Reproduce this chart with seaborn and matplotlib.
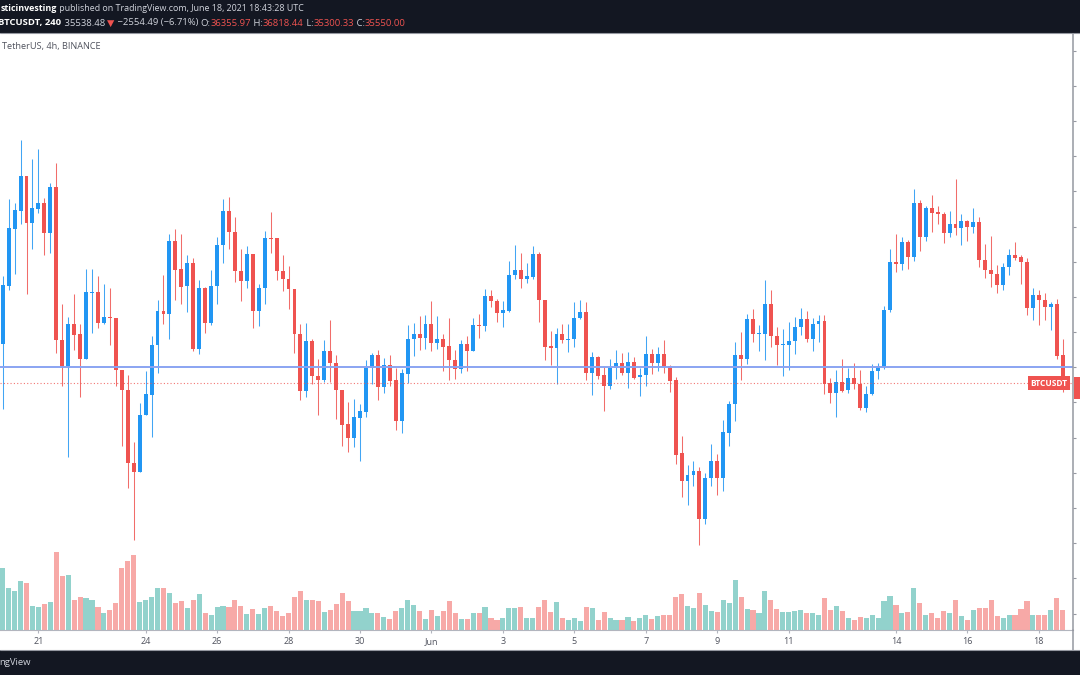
import matplotlib

matplotlib.use("Agg")
import matplotlib.pyplot as plt
import matplotlib.transforms as mtransforms
from matplotlib.lines import Line2D
from matplotlib.patches import Rectangle
import numpy as np
import pandas as pd
import seaborn as sns

# BTCUSDT 4h candles on Binance, 2021-05-20 00:00 UTC to 2021-06-18 16:00 UTC
start_time = "2021-05-20 00:00"

opens = [
    36651, 38313, 39938, 40451, 41439, 40090, 40508, 40660, 39824, 41116,
    36784, 36033, 37240, 36936, 36233, 38114, 38152, 37259, 37430, 37411,
    35910, 35359, 33288, 33012, 34646, 35226, 36622, 37591, 37515, 39596,
    38788, 38304, 38978, 36508, 38266, 37259, 38304, 39482, 40441, 39843,
    38750, 38465, 39235, 37601, 38257, 39682, 39672, 38750, 38522, 38218,
    36955, 35340, 36736, 35758, 35625, 36451, 36119, 35359, 34390, 34000,
    34561, 34742, 35977, 36337, 35435, 36052, 35625, 34466, 35815, 36803,
    36955, 36831, 37240, 36689, 36812, 36594, 36214, 35948, 36670, 36461,
    37211, 37174, 38029, 37877, 37544, 37601, 38618, 38779, 38504, 38570,
    39235, 37924, 36594, 36556, 36936, 36784, 36812, 37401, 37572, 35844,
    36290, 35768, 35482, 35986, 36129, 35834, 36148, 35711, 35768, 36385,
    36119, 36366, 36024, 35625, 33554, 32775, 32936, 33060, 31682, 32851,
    33345, 32842, 34124, 34960, 36337, 36243, 37383, 36946, 36955, 37810,
    36879, 36632, 36641, 36736, 37145, 37383, 36793, 37221, 37316, 35558,
    35264, 35577, 35359, 35701, 35530, 34846, 35245, 35891, 36005, 37620,
    38997, 38950, 39548, 39140, 40679, 39691, 40517, 40413, 40356, 39824,
    40061, 39947, 40156, 39995, 40128, 39064, 38779, 38665, 38332, 38855,
    39187, 39130, 38997, 37686, 38067, 37924, 37715, 37810, 36355.97,
]

highs = [
    38589, 40783, 40679, 42465, 41439, 41914, 42208, 40802, 41230, 41800,
    37810, 37430, 38095, 37221, 38807, 38807, 38589, 38380, 38266, 37411,
    35910, 35786, 33886, 34979, 35891, 36879, 37905, 38627, 39776, 39919,
    39786, 39206, 39111, 38475, 38285, 38760, 39691, 40774, 40850, 40280,
    39349, 39454, 39235, 38380, 39871, 40413, 39672, 39187, 38874, 38218,
    37221, 37268, 36812, 36233, 36765, 37335, 36337, 35359, 35026, 35102,
    34960, 36214, 36404, 36480, 36271, 36337, 35986, 35957, 37192, 37268,
    37449, 37477, 37877, 37449, 36936, 37411, 36480, 36784, 36888, 37401,
    37525, 38218, 38190, 37953, 37877, 39026, 39473, 39254, 38978, 39444,
    39282, 37924, 37022, 37126, 37240, 37240, 37858, 37905, 37858, 36433,
    36309, 36005, 36243, 36480, 36404, 36433, 36290, 35977, 36888, 36527,
    36575, 36765, 36071, 35720, 34057, 33231, 33345, 33174, 32984, 33820,
    33535, 34504, 35036, 36717, 37003, 37525, 37649, 37211, 38475, 38190,
    37145, 37079, 37287, 37430, 37687, 37591, 37401, 37477, 37477, 35701,
    35910, 36243, 35977, 36129, 35910, 35482, 36081, 36129, 37734, 39377,
    39786, 39710, 39615, 41059, 40755, 40584, 40897, 40584, 40422, 40441,
    41344, 40356, 40185, 40517, 40261, 39501, 39729, 38921, 38969, 39377,
    39567, 39197, 39121, 38257, 38209, 38114, 37858, 37953, 36818.44,
]

lows = [
    34817, 38190, 38665, 40071, 38095, 39377, 40394, 39206, 39263, 36404,
    35482, 33459, 36499, 35150, 36233, 36984, 37126, 37221, 36641, 35482,
    33763, 32556, 31084, 33012, 34646, 34010, 35834, 37240, 36793, 37924,
    37791, 37572, 36461, 36385, 36984, 37211, 37791, 38969, 39349, 38428,
    37877, 38257, 37117, 37174, 37810, 39254, 38475, 38171, 37667, 36414,
    35083, 35150, 35530, 34656, 35577, 35577, 34532, 33763, 33601, 33725,
    33345, 34599, 35530, 35074, 35264, 35482, 34219, 34124, 35558, 36309,
    36480, 36527, 36461, 36527, 35891, 35644, 35672, 35834, 35891, 36461,
    36831, 37022, 37715, 37287, 37145, 37572, 38504, 38266, 38399, 38504,
    37287, 36195, 36052, 35530, 36689, 36433, 36575, 37383, 35625, 35226,
    35654, 34751, 35369, 35654, 35768, 35416, 35654, 35179, 35482, 35815,
    35891, 35834, 35292, 33250, 32300, 32091, 32632, 30951, 31540, 32613,
    32367, 32490, 33772, 34485, 35625, 36100, 36717, 36461, 36214, 36575,
    36052, 35749, 35910, 36366, 36908, 36717, 36461, 36717, 35245, 34979,
    34580, 35292, 35264, 35388, 34789, 34723, 35226, 35654, 35939, 37572,
    38712, 38760, 38807, 39016, 39311, 39586, 39833, 40071, 39520, 39691,
    39757, 39473, 39596, 39824, 38855, 38551, 38285, 38114, 38190, 38636,
    39045, 38380, 37496, 37354, 37211, 37354, 37050, 36243, 35300.33,
]

closes = [
    38332, 39947, 40470, 41439, 40090, 40517, 40660, 39824, 41116, 36765,
    36033, 37240, 36917, 36233, 38133, 38152, 37259, 37430, 37401, 35910,
    35359, 33278, 33031, 34646, 35245, 36641, 37591, 37515, 39596, 38779,
    38285, 38978, 36508, 38266, 37259, 38304, 39491, 40441, 39843, 38741,
    38465, 39235, 37601, 38266, 39682, 39653, 38741, 38513, 38218, 36955,
    35340, 36736, 35758, 35625, 36451, 36119, 35359, 34371, 34000, 34580,
    34751, 35986, 36337, 35435, 36052, 35606, 34466, 35834, 36812, 36955,
    36831, 37240, 36689, 36812, 36575, 36195, 35948, 36670, 36461, 37211,
    37174, 38029, 37877, 37544, 37620, 38618, 38779, 38504, 38589, 39235,
    37924, 36575, 36556, 36936, 36784, 36812, 37401, 37572, 35844, 36290,
    35749, 35482, 35986, 36129, 35834, 36148, 35701, 35786, 36385, 36119,
    36366, 36005, 35606, 33516, 32775, 32946, 33060, 31682, 32851, 33345,
    32851, 34153, 34960, 36337, 36243, 37383, 36955, 36974, 37810, 36879,
    36641, 36660, 36746, 37145, 37383, 36793, 37240, 37316, 35530, 35264,
    35577, 35340, 35701, 35530, 34846, 35245, 35891, 36024, 37620, 38997,
    38950, 39548, 39140, 40679, 39691, 40517, 40394, 40346, 39824, 40061,
    39947, 40156, 39995, 40128, 39045, 38760, 38646, 38332, 38855, 39187,
    39111, 38997, 37686, 38067, 37924, 37715, 37810, 36318, 35550.00,
]

# volume, thousand BTC
volumes = [
    36.0, 24.0, 22.4, 28.4, 27.2, 14.0, 13.0, 14.8, 16.0, 45.0,
    31.0, 31.6, 17.4, 19.2, 18.4, 17.4, 13.0, 9.8, 11.2, 15.2,
    36.0, 39.6, 43.6, 16.0, 17.0, 19.0, 24.0, 24.4, 21.4, 15.2,
    16.4, 12.4, 17.4, 20.6, 9.8, 8.6, 13.0, 14.0, 13.4, 17.4,
    13.6, 9.0, 12.0, 9.0, 12.4, 14.0, 10.6, 8.0, 9.4, 19.2,
    22.6, 17.0, 17.4, 16.4, 10.4, 11.6, 14.8, 21.4, 16.4, 10.6,
    10.6, 12.4, 9.6, 9.8, 7.6, 6.2, 10.6, 12.4, 17.4, 14.4,
    10.6, 6.2, 11.2, 8.0, 10.6, 16.4, 9.8, 6.2, 6.2, 9.4,
    9.8, 13.4, 7.0, 5.8, 6.6, 12.4, 12.4, 13.4, 7.0, 6.6,
    13.2, 17.4, 10.2, 16.0, 7.0, 5.8, 7.0, 5.2, 13.0, 12.4,
    5.8, 10.2, 6.6, 5.8, 5.8, 7.6, 5.2, 7.0, 8.8, 6.2,
    8.0, 8.6, 8.6, 19.2, 20.6, 14.0, 12.4, 21.4, 14.4, 10.6,
    10.2, 17.0, 15.6, 29.0, 18.8, 12.0, 11.6, 9.4, 22.4, 17.4,
    12.0, 10.2, 10.2, 10.6, 11.2, 9.4, 9.4, 8.8, 18.2, 11.6,
    13.8, 10.6, 6.6, 5.8, 7.6, 7.0, 8.6, 7.0, 16.6, 19.6,
    14.2, 9.8, 10.2, 24.0, 15.2, 8.6, 9.4, 7.0, 10.6, 9.8,
    17.0, 8.0, 5.8, 11.2, 12.4, 12.4, 17.4, 8.0, 7.0, 8.8,
    8.8, 12.0, 16.4, 8.8, 8.8, 8.8, 11.6, 18.2, 11.6,
]

tick_dates = [
    "2021-05-21", "2021-05-24", "2021-05-26", "2021-05-28", "2021-05-30",
    "2021-06-01", "2021-06-03", "2021-06-05", "2021-06-07", "2021-06-09",
    "2021-06-11", "2021-06-14", "2021-06-16", "2021-06-18",
]
tick_labels = ["21", "24", "26", "28", "30", "Jun", "3", "5", "7", "9", "11", "14", "16", "18"]
price_ticks = list(range(29000, 45001, 1000))
line_level = 36000

header_line1 = [
    ("sticinvesting", "#ffffff", "bold"),
    (" published on TradingView.com, June 18, 2021 18:43:28 UTC", "#d1d4dc", "normal"),
]
header_line2 = [
    ("BTCUSDT, 240", "#ffffff", "bold"),
    (" 35538.48 ", "#d1d4dc", "normal"),
    ("\u25bc", "#ef5350", "normal"),
    (" \u22122554.49 (\u22126.71%) ", "#d1d4dc", "normal"),
    ("O:", "#d1d4dc", "normal"),
    ("36355.97", "#ef5350", "normal"),
    (" H:", "#d1d4dc", "normal"),
    ("36818.44", "#ef5350", "normal"),
    (" L:", "#d1d4dc", "normal"),
    ("35300.33", "#ef5350", "normal"),
    (" C:", "#d1d4dc", "normal"),
    ("35550.00", "#ef5350", "normal"),
]

W, H = 1080, 675
PLOT_TOP, PLOT_BOTTOM, PLOT_RIGHT = 33.0, 629.7, 1072.7
UP_COLOR = "#2196f3"
DOWN_COLOR = "#ef5350"
VOL_UP = "#92d2cc"
VOL_DOWN = "#f7a9a7"
DARK = "#131722"
AXIS_GRAY = "#b2b5be"
FONTS = ["Open Sans", "DejaVu Sans"]


def fx(px):
    return px / W


def fy(py):
    return 1 - py / H


def draw_runs(fig, renderer, runs, x_px, y_px, size):
    x = x_px
    for text, color, weight in runs:
        t = fig.text(fx(x), fy(y_px), text, color=color, fontsize=size,
                     fontweight=weight, ha="left", va="center", family=FONTS)
        x = t.get_window_extent(renderer).x1


def main():
    sns.set_theme(style="white")
    plt.rcParams["font.family"] = FONTS

    n = len(closes)
    times = pd.date_range(start_time, periods=n, freq="4h")
    frame = pd.DataFrame({
        "idx": np.arange(n),
        "open": opens, "high": highs, "low": lows, "close": closes,
        "volume": volumes,
    })
    frame["direction"] = np.where(frame["close"] >= frame["open"], "up", "down")

    fig = plt.figure(figsize=(W / 100, H / 100), dpi=100)
    fig.patch.set_facecolor("white")
    ax_vol = fig.add_axes([0, fy(PLOT_BOTTOM), fx(PLOT_RIGHT), (PLOT_BOTTOM - PLOT_TOP) / H])
    ax_vol.set_facecolor("white")

    sns.barplot(
        data=frame, x="idx", y="volume", hue="direction",
        palette={"up": VOL_UP, "down": VOL_DOWN}, native_scale=True,
        orient="x", dodge=False, width=0.86, saturation=1, errorbar=None,
        legend=False, linewidth=0, ax=ax_vol,
    )
    ax_vol.set_ylim(0, frame["volume"].max() * (PLOT_BOTTOM - PLOT_TOP) / 77.6)
    ax_vol.set_xlim(-0.45, 179.68)
    ax_vol.set_xlabel("")
    ax_vol.set_ylabel("")
    ax_vol.set_yticks([])

    tick_pos = [int(np.where(times == pd.Timestamp(d))[0][0]) for d in tick_dates]
    ax_vol.set_xticks(tick_pos)
    ax_vol.set_xticklabels(tick_labels)
    ax_vol.tick_params(axis="x", bottom=True, length=2.5, width=0.8, color=AXIS_GRAY,
                       labelsize=6.5, labelcolor="#50535e", pad=2.5)
    for side in ["left", "top", "right"]:
        ax_vol.spines[side].set_visible(False)
    ax_vol.spines["bottom"].set_color(AXIS_GRAY)
    ax_vol.spines["bottom"].set_linewidth(0.8)

    ax_price = ax_vol.twinx()
    up = frame["direction"] == "up"
    colors = np.where(up, UP_COLOR, DOWN_COLOR)
    ax_price.vlines(frame["idx"], frame["low"], frame["high"], colors=colors, linewidth=0.75, alpha=0.85)
    body = np.maximum((frame["close"] - frame["open"]).abs(), 30)
    ax_price.bar(frame["idx"], body, bottom=frame[["open", "close"]].min(axis=1),
                 width=0.66, color=colors, linewidth=0)

    ax_price.axhline(line_level, color="#8aa4f2", linewidth=1.4)
    last_close = frame["close"].iloc[-1]
    ax_price.axhline(last_close, color=DOWN_COLOR, linewidth=0.8, linestyle=(0, (1, 2)), alpha=0.8)
    ax_price.set_ylim(28540, 45504)
    ax_price.set_xlim(-0.45, 179.68)

    ax_price.set_yticks(price_ticks)
    ax_price.set_yticklabels([])
    ax_price.tick_params(axis="y", right=True, length=2.5, width=0.8, color="#9598a1")
    for side in ["left", "top", "bottom"]:
        ax_price.spines[side].set_visible(False)
    ax_price.spines["right"].set_color("#9598a1")
    ax_price.spines["right"].set_linewidth(1.1)

    label_tr = mtransforms.blended_transform_factory(ax_price.transAxes, ax_price.transData)
    ax_price.text(1048.5 / PLOT_RIGHT, last_close, "BTCUSDT", transform=label_tr,
                  ha="center", va="center", color="white", fontsize=6, fontweight="bold",
                  bbox=dict(boxstyle="square,pad=0.3", fc=DOWN_COLOR, ec="none"))
    fig.add_artist(Rectangle((fx(PLOT_RIGHT + 0.8), fy(399)), fx(8), 22 / H,
                             transform=fig.transFigure, color=DOWN_COLOR, linewidth=0))

    # header and footer bands
    fig.add_artist(Rectangle((0, fy(32.5)), 1, 32.5 / H, transform=fig.transFigure,
                             color=DARK, linewidth=0))
    fig.add_artist(Line2D([0, 1], [fy(33), fy(33)], transform=fig.transFigure,
                          color="#9598a1", linewidth=0.8))
    fig.add_artist(Rectangle((0, 0), 1, 25 / H, transform=fig.transFigure,
                             color=DARK, linewidth=0))
    fig.add_artist(Line2D([0, 1], [fy(650), fy(650)], transform=fig.transFigure,
                          color="#9598a1", linewidth=0.8))
    fig.add_artist(Line2D([fx(PLOT_RIGHT), fx(PLOT_RIGHT)], [fy(PLOT_BOTTOM), fy(650)],
                          transform=fig.transFigure, color="#9598a1", linewidth=1.1))

    renderer = fig.canvas.get_renderer()
    draw_runs(fig, renderer, header_line1, 0.5, 8.8, 6.4)
    draw_runs(fig, renderer, header_line2, -1.5, 23.0, 6.8)
    fig.text(fx(2), fy(46.5), "TetherUS, 4h, BINANCE", color="#50535e", fontsize=6.6,
             ha="left", va="center")
    fig.text(fx(-1), fy(662.5), "ngView", color="#d1d4dc", fontsize=6.8,
             ha="left", va="center")

    fig.savefig("out.png", dpi=100)
    plt.close(fig)


if __name__ == "__main__":
    main()
